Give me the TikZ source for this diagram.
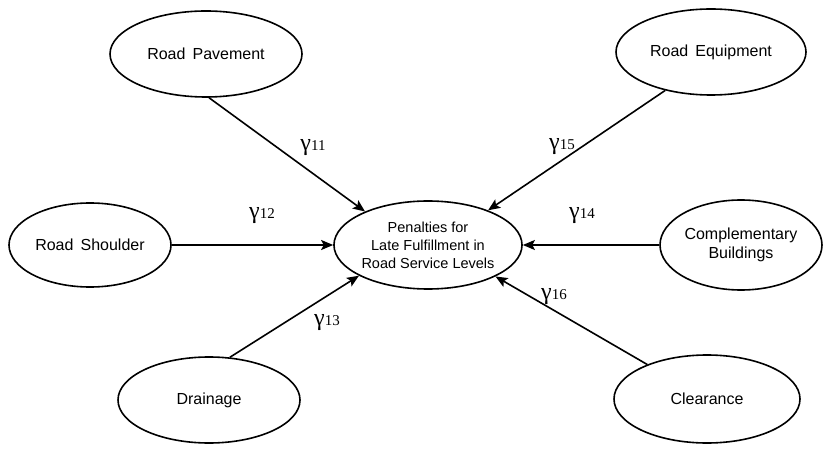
\documentclass[tikz,border=0pt]{standalone}
\usepackage{fontspec}
\setmainfont{Liberation Sans}
\newfontfamily\serifg{Liberation Serif}
\usetikzlibrary{shapes.geometric,arrows.meta}
\begin{document}
\begin{tikzpicture}[x=1pt,y=-1pt,
  oval/.style 2 args={ellipse, draw, line width=1.6pt, inner sep=0pt, minimum width=#1pt, minimum height=#2pt, align=center, font=\fontsize{16}{19}\selectfont},
  arr/.style={line width=1.6pt, -{Stealth[length=12pt,width=10pt,inset=2.5pt]}},
  gl/.style={inner sep=0pt}]
\useasboundingbox (0,0) rectangle (824,454);
\node[oval={180}{88}, font=\fontsize{14.5}{18}\selectfont] (c) at (428,245) {Penalties for\\Late Fulfillment in\\Road Service Levels};
\node[oval={192}{86}] (rp) at (206,54) {Road\, Pavement};
\node[oval={190}{86}] (re) at (711,52) {Road\, Equipment};
\node[oval={162}{84}] (rs) at (90,245) {Road\, Shoulder};
\node[oval={162}{90}] (cb) at (741,245) {Complementary\\Buildings};
\node[oval={182}{86}] (dr) at (209,400) {Drainage};
\node[oval={186}{88}] (cl) at (707,399) {Clearance};
\draw[arr] (rp.-86) -- (c.152);
\draw[arr] (re.-140) -- (c.30);
\draw[arr] (rs.east) -- (c.west);
\draw[arr] (cb.west) -- (c.east);
\draw[arr] (dr.64) -- (c.204);
\draw[arr] (cl.150) -- (c.-25);
\newcommand\glab[1]{{\serifg\fontsize{24}{24}\selectfont γ\fontsize{15}{15}\selectfont #1}}
\node[gl] (g11) at (313,148) {\glab{11}};
\node[gl] (g12) at (262,216) {\glab{12}};
\node[gl] (g13) at (327,323) {\glab{13}};
\node[gl] (g15) at (562,147) {\glab{15}};
\node[gl] (g14) at (582,216) {\glab{14}};
\node[gl] (g16) at (554,297) {\glab{16}};
\end{tikzpicture}
\end{document}
